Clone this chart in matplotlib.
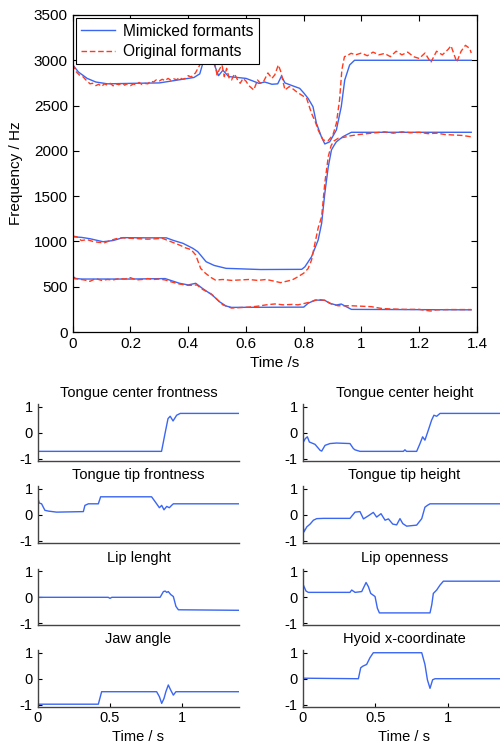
import numpy as np
import matplotlib
matplotlib.use('Agg')
import matplotlib.pyplot as plt
from matplotlib.ticker import FormatStrFormatter

plt.rcParams['font.family'] = ['Liberation Sans', 'DejaVu Sans']
plt.rcParams['axes.unicode_minus'] = False

#formant tracks (time in s, frequency in Hz)
mim_f3_t = [0, 0.02, 0.05, 0.08, 0.12, 0.2, 0.3, 0.36, 0.42, 0.44, 0.45, 0.47, 0.49, 0.505, 0.52, 0.54, 0.6, 0.625,
            0.645, 0.665, 0.69, 0.71, 0.723, 0.735, 0.76, 0.786, 0.80, 0.815, 0.832, 0.844, 0.861, 0.873, 0.89, 0.913,
            0.93, 0.942, 0.959, 0.976, 1.38]
mim_f3 = [2950, 2870, 2800, 2760, 2740, 2745, 2750, 2780, 2810, 2850, 2960, 2965, 2955, 2830, 2890, 2820, 2800, 2770,
          2745, 2760, 2735, 2740, 2826, 2750, 2720, 2690, 2640, 2580, 2488, 2304, 2157, 2076, 2100, 2230,
          2488, 2782, 2948, 3000, 3000]

orig_f3_t = [0, 0.01, 0.023, 0.035, 0.046, 0.06, 0.069, 0.08, 0.09, 0.1, 0.11, 0.12, 0.13, 0.14, 0.15, 0.16, 0.17,
             0.18, 0.19, 0.2, 0.21, 0.22, 0.23, 0.24, 0.25, 0.26, 0.27, 0.28, 0.29, 0.30, 0.31, 0.32, 0.33, 0.34,
             0.35, 0.36, 0.37, 0.38, 0.39, 0.40, 0.41, 0.425, 0.44, 0.45, 0.46, 0.47, 0.48, 0.49, 0.50, 0.508,
             0.517, 0.525, 0.533, 0.542, 0.55, 0.56, 0.57, 0.58, 0.59, 0.60, 0.61, 0.627, 0.64, 0.65, 0.66, 0.676,
             0.69, 0.70, 0.712, 0.72, 0.735, 0.75, 0.76, 0.775, 0.792, 0.81, 0.827, 0.84, 0.85, 0.867, 0.884,
             0.901, 0.913, 0.924, 0.932, 0.941, 0.95, 0.964, 0.98, 1.0, 1.02, 1.04, 1.06, 1.08, 1.10, 1.12, 1.14,
             1.16, 1.18, 1.20, 1.22, 1.24, 1.26, 1.28, 1.30, 1.31, 1.33, 1.345, 1.36, 1.375, 1.38]
orig_f3 = [2960, 2880, 2838, 2820, 2782, 2740, 2746, 2720, 2735, 2712, 2740, 2725, 2745, 2718, 2740, 2730, 2750,
           2725, 2742, 2720, 2738, 2730, 2755, 2732, 2745, 2740, 2770, 2760, 2785, 2772, 2790, 2775, 2800, 2780,
           2795, 2785, 2810, 2790, 2800, 2830, 2815, 2860, 2948, 2990, 2960, 3010, 2970, 2990, 2838, 2900,
           2948, 2819, 2911, 2800, 2782, 2850, 2790, 2746, 2800, 2770, 2720, 2672, 2782, 2746, 2760, 2860,
           2800, 2840, 2948, 2880, 2672, 2710, 2690, 2653, 2617, 2580, 2414, 2322, 2230, 2120, 2110,
           2175, 2304, 2561, 2892, 3040, 3050, 3077, 3060, 3080, 3050, 3090, 3060, 3075, 3040, 3100, 3060,
           3090, 3040, 3020, 3080, 2975, 3100, 3060, 3120, 3160, 2980, 3100, 3165, 3130, 3080]

mim_f2_t = [0, 0.03, 0.06, 0.105, 0.14, 0.174, 0.25, 0.324, 0.35, 0.382, 0.416, 0.433, 0.462, 0.49, 0.508, 0.531,
            0.56, 0.65, 0.793, 0.804, 0.827, 0.85, 0.862, 0.873, 0.885, 0.896, 0.905, 0.913, 0.936, 0.965, 1.38]
mim_f2 = [1052, 1045, 1030, 997, 1010, 1042, 1040, 1040, 1010, 979, 924, 887, 776, 735, 721, 703,
          700, 690, 692, 720, 831, 1016, 1200, 1531, 1825, 2010, 2060, 2100, 2157, 2205, 2205]

orig_f2_t = [0, 0.015, 0.03, 0.05, 0.07, 0.09, 0.11, 0.13, 0.15, 0.17, 0.2, 0.23, 0.26, 0.29, 0.31, 0.33, 0.35,
             0.37, 0.39, 0.41, 0.426, 0.443, 0.46, 0.48, 0.494, 0.52, 0.55, 0.58, 0.61, 0.64, 0.67, 0.70, 0.72,
             0.74, 0.76, 0.78, 0.80, 0.815, 0.827, 0.839, 0.85, 0.862, 0.873, 0.885, 0.895, 0.905, 0.92, 0.94,
             0.96, 0.99, 1.02, 1.05, 1.08, 1.11, 1.14, 1.17, 1.2, 1.23, 1.26, 1.29, 1.32, 1.35, 1.38]
orig_f2 = [1060, 1050, 1010, 1020, 1000, 990, 985, 1010, 1030, 1040, 1035, 1030, 1025, 1030, 1035, 1010, 985,
           960, 930, 910, 850, 703, 648, 600, 574, 580, 570, 575, 580, 570, 580, 560, 545,
           560, 575, 610, 650, 700, 794, 982, 1150, 1273, 1645, 1936, 2060, 2110, 2140, 2150,
           2165, 2180, 2190, 2200, 2210, 2195, 2210, 2200, 2205, 2190, 2195, 2180, 2175, 2170, 2155]

mim_f1_t = [0, 0.01, 0.03, 0.1, 0.2, 0.32, 0.37, 0.40, 0.426, 0.449, 0.483, 0.508, 0.531, 0.55, 0.8, 0.815, 0.839,
            0.873, 0.89, 0.913, 0.93, 0.965, 1.38]
mim_f1 = [615, 592, 585, 585, 585, 590, 538, 520, 538, 482, 409, 335, 287, 272, 275, 317, 353,
          350, 317, 298, 309, 250, 245]

orig_f1_t = [0, 0.02, 0.04, 0.06, 0.08, 0.1, 0.12, 0.14, 0.16, 0.18, 0.2, 0.22, 0.24, 0.26, 0.28, 0.3, 0.32, 0.345,
             0.37, 0.40, 0.43, 0.45, 0.48, 0.50, 0.52, 0.55, 0.58, 0.61, 0.64, 0.67, 0.70, 0.73, 0.76, 0.78,
             0.804, 0.827, 0.85, 0.873, 0.896, 0.919, 0.965, 1.0, 1.034, 1.07, 1.1, 1.15, 1.2, 1.22, 1.24, 1.26,
             1.3, 1.38]
orig_f1 = [590, 585, 575, 560, 590, 570, 580, 575, 590, 585, 600, 575, 580, 590, 580, 585, 575, 550,
           530, 515, 520, 470, 420, 360, 300, 265, 270, 275, 285, 300, 310, 300, 305, 300,
           317, 335, 360, 350, 310, 290, 290, 285, 280, 260, 255, 250, 250, 240, 232, 245,
           248, 248]

#articulatory parameters (time in s, normalised value)
titles = ['Tongue center frontness', 'Tongue center height', 'Tongue tip frontness', 'Tongue tip height',
          'Lip lenght', 'Lip openness', 'Jaw angle', 'Hyoid x-coordinate']

tcf_t = [0, 0.86, 0.885, 0.905, 0.92, 0.94, 0.965, 0.99, 1.4]
tcf = [-0.71, -0.71, 0.0, 0.55, 0.64, 0.46, 0.68, 0.75, 0.75]

tch_t = [0, 0.005, 0.018, 0.032, 0.046, 0.085, 0.12, 0.131, 0.154, 0.188, 0.234, 0.326, 0.349, 0.36, 0.395,
         0.694, 0.705, 0.716, 0.786, 0.809, 0.827, 0.843, 0.866, 0.889, 0.905, 0.924, 0.947, 1.4]
tch = [0.17, -0.35, -0.22, -0.15, -0.35, -0.44, -0.67, -0.7, -0.48, -0.41, -0.39, -0.41, -0.6, -0.65, -0.71,
       -0.71, -0.65, -0.71, -0.71, -0.41, -0.15, -0.28, 0.1, 0.49, 0.68, 0.64, 0.75, 0.75]

ttf_t = [0, 0.011, 0.027, 0.05, 0.074, 0.131, 0.317, 0.328, 0.352, 0.421, 0.437, 0.791, 0.826, 0.845, 0.861,
         0.877, 0.896, 0.914, 0.93, 0.942, 1.4]
ttf = [0.68, 0.46, 0.43, 0.18, 0.15, 0.11, 0.13, 0.37, 0.43, 0.43, 0.7, 0.7, 0.43, 0.28, 0.37,
       0.2, 0.33, 0.28, 0.37, 0.43, 0.43]

tth_t = [0, 0.009, 0.028, 0.051, 0.074, 0.097, 0.143, 0.326, 0.361, 0.395, 0.419, 0.453, 0.487, 0.51, 0.54,
         0.568, 0.591, 0.621, 0.648, 0.671, 0.69, 0.717, 0.786, 0.821, 0.843, 0.86, 0.878, 1.4]
tth = [-0.33, -0.65, -0.46, -0.35, -0.2, -0.14, -0.13, -0.13, 0.11, 0.13, -0.15, -0.03, 0.1, -0.08, 0.05,
       -0.2, -0.15, -0.35, -0.38, -0.14, -0.33, -0.43, -0.39, -0.14, 0.3, 0.37, 0.43, 0.43]

lipl_t = [0, 0.49, 0.502, 0.515, 0.85, 0.873, 0.885, 0.896, 0.907, 0.923, 0.942, 0.96, 0.977, 1.4]
lipl = [0, 0, -0.04, 0, 0, 0.22, 0.24, 0.19, 0.22, 0.11, 0.03, -0.35, -0.48, -0.5]

lipo_t = [0, 0.003, 0.023, 0.039, 0.326, 0.338, 0.361, 0.407, 0.437, 0.453, 0.469, 0.499, 0.515, 0.529,
          0.878, 0.89, 0.901, 0.924, 0.947, 0.97, 1.4]
lipo = [-0.2, 0.49, 0.24, 0.19, 0.19, 0.28, 0.19, 0.22, 0.57, 0.41, 0.15, 0.03, -0.42, -0.6,
        -0.6, -0.29, 0.15, 0.28, 0.47, 0.62, 0.62]

jaw_t = [0, 0.421, 0.444, 0.826, 0.845, 0.861, 0.877, 0.89, 0.907, 0.923, 0.942, 0.96, 1.4]
jaw = [-0.98, -0.98, -0.5, -0.5, -0.69, -0.95, -0.76, -0.5, -0.24, -0.43, -0.63, -0.5, -0.5]

hyo_t = [0, 0.004, 0.384, 0.4, 0.414, 0.441, 0.464, 0.487, 0.821, 0.843, 0.86, 0.878, 0.896, 0.913, 1.4]
hyo = [-0.95, 0.02, 0.0, 0.42, 0.48, 0.55, 0.81, 1.0, 1.0, 0.55, -0.04, -0.37, -0.04, 0.0, 0.0]

params = [(tcf_t, tcf), (tch_t, tch), (ttf_t, ttf), (tth_t, tth),
          (lipl_t, lipl), (lipo_t, lipo), (jaw_t, jaw), (hyo_t, hyo)]

blue = '#3a66f2'
red = '#ff3b1f'

fig = plt.figure(figsize=(5, 7.49), dpi=100)

#top plot with the formants
ax = fig.add_axes([0.1454, 0.5567, 0.8086, 0.4233])
ax.plot(mim_f3_t, mim_f3, color=blue, lw=1.0, label='Mimicked formants')
ax.plot(orig_f3_t, orig_f3, color=red, lw=1.0, dashes=(4, 2), label='Original formants')
ax.plot(mim_f2_t, mim_f2, color=blue, lw=1.0)
ax.plot(orig_f2_t, orig_f2, color=red, lw=1.0, dashes=(4, 2))
ax.plot(mim_f1_t, mim_f1, color=blue, lw=1.0)
ax.plot(orig_f1_t, orig_f1, color=red, lw=1.0, dashes=(4, 2))
ax.set_xlim(0, 1.4)
ax.set_ylim(0, 3500)
ax.set_xticks(np.arange(0, 1.41, 0.2))
ax.set_yticks(np.arange(0, 3501, 500))
ax.xaxis.set_major_formatter(FormatStrFormatter('%g'))
ax.tick_params(direction='in', top=True, right=True, labelsize=11, length=4)
for s in ax.spines.values():
    s.set_linewidth(0.9)
ax.set_xlabel('Time /s', fontsize=11, labelpad=4)
ax.set_ylabel('Frequency / Hz', fontsize=11, labelpad=8)
leg = ax.legend(loc='upper left', fontsize=11.2, handlelength=2.2, borderaxespad=0.2,
                fancybox=False, framealpha=1, edgecolor='black', borderpad=0.35, labelspacing=0.35,
                handletextpad=0.5)
leg.get_frame().set_linewidth(0.8)

#small plots of the articulators
lefts = [0.0754, 0.6054]
widths = [0.4032, 0.406]
bottoms = [0.3849, 0.2753, 0.1654, 0.0567]
for i, (tt, vv) in enumerate(params):
    row = i // 2
    col = i % 2
    a = fig.add_axes([lefts[col], bottoms[row], widths[col], 0.0753])
    a.plot(tt, vv, color=blue, lw=1.0)
    a.set_xlim(0, 1.4)
    a.set_ylim(-1.07, 1.1)
    a.set_yticks([-1, 0, 1])
    a.spines['top'].set_visible(False)
    a.spines['right'].set_visible(False)
    for s in ['left', 'bottom']:
        a.spines[s].set_color('#444444')
        a.spines[s].set_linewidth(1.0)
    a.tick_params(direction='in', labelsize=10.5, length=3)
    a.set_title(titles[i], fontsize=10.5, pad=5)
    if row == 3:
        a.set_xticks([0, 0.5, 1])
        a.xaxis.set_major_formatter(FormatStrFormatter('%g'))
        a.set_xlabel('Time / s', fontsize=10.5, labelpad=3)
    else:
        a.set_xticks([])

plt.savefig('out.png', dpi=100)
